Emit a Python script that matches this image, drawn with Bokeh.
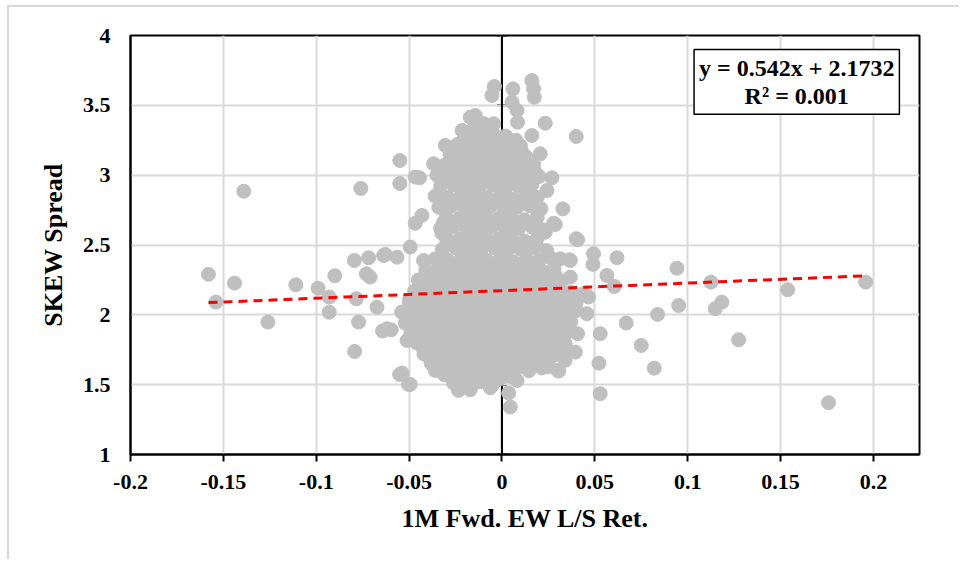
from bokeh.plotting import figure
from bokeh.models import Range1d, FixedTicker, Span, Label, ColumnDataSource
from bokeh.embed import file_html
from bokeh.resources import INLINE

# ---------------- data ----------------
x_ticks = [-0.2, -0.15, -0.1, -0.05, 0.0, 0.05, 0.1, 0.15, 0.2]
x_tick_labels = ["-0.2", "-0.15", "-0.1", "-0.05", "0", "0.05", "0.1", "0.15", "0.2"]
y_ticks = [1.0, 1.5, 2.0, 2.5, 3.0, 3.5, 4.0]
y_tick_labels = ["1", "1.5", "2", "2.5", "3", "3.5", "4"]

slope = 0.542
intercept = 2.1732
r_squared = 0.001

# sparse points around the cloud
outer_x = [-0.158, -0.144, -0.154, -0.126, -0.139, -0.111, -0.099, -0.093, -0.093, -0.090,
           -0.0795, -0.0718, -0.0637, -0.0565, -0.073, -0.071, -0.0784, -0.0772, -0.0793, -0.0643,
           -0.0596, -0.0551, -0.0503, -0.0673, -0.076, -0.055, -0.055,
           0.0328, 0.0287, 0.0407, 0.0493, 0.049, 0.0619, 0.0565, 0.0605, 0.0942, 0.1125,
           0.1538, 0.1958, 0.0951, 0.1184, 0.1148, 0.0838, 0.0669, 0.0529, 0.075, 0.1274,
           0.0522, 0.082, 0.0529, 0.1758, 0.0466, 0.0457, 0.0407, 0.0395, 0.034, 0.030,
           0.0368, 0.0314, 0.0287, 0.0368, 0.0439]
outer_y = [2.29, 2.227, 2.091, 1.948, 2.885, 2.215, 2.191, 2.127, 2.019, 2.28,
           2.389, 2.409, 2.425, 2.413, 2.294, 2.27, 2.115, 1.948, 1.738, 1.884,
           1.893, 1.573, 1.502, 2.055, 2.905, 3.105, 2.94,
           2.759, 2.647, 2.537, 2.437, 2.361, 2.409, 2.282, 2.203, 2.334, 2.234,
           2.18, 2.234, 2.067, 2.091, 2.044, 2.003, 1.941, 1.865, 1.781, 1.822,
           1.654, 1.618, 1.435, 1.371, 2.127, 2.008, 1.865, 1.733, 1.674, 1.602,
           2.389, 2.401, 2.282, 2.27, 2.151]

# edge points of the cloud (top, sides, bottom)
edge_x = [-0.0041, -0.0054, 0.0059, 0.0161, 0.017, 0.0174, 0.0054, 0.0081, 0.0084, 0.0233,
          0.040, -0.0144, -0.0171, -0.0045, -0.0215, 0.0161, -0.0305, -0.0368, -0.0444, 0.0269,
          0.0206, 0.0242, -0.0431, -0.0467, -0.0323, -0.0494, -0.0628, -0.0422, 0.0278, 0.0233,
          0.040, 0.0364, -0.0467, -0.0538, -0.0494, -0.0359, -0.0234, -0.0171, -0.0063, 0.0036,
          0.0045, 0.0081, 0.0305, 0.034, 0.034, -0.0511, -0.0619]
edge_y = [3.635, 3.571, 3.618, 3.678, 3.618, 3.558, 3.523, 3.463, 3.379, 3.372,
          3.277, 3.427, 3.415, 3.368, 3.32, 3.284, 3.213, 3.082, 2.981, 2.981,
          3.153, 2.89, 2.712, 2.656, 2.585, 2.485, 2.432, 2.389, 2.656, 2.592,
          2.545, 2.394, 2.986, 1.583, 1.502, 1.602, 1.459, 1.464, 1.478, 1.44,
          1.34, 1.53, 1.597, 1.722, 1.793, 1.817, 1.9]

# dense lower body of the cloud
core_x = [-0.026, -0.019, -0.012, -0.005,
          -0.031, -0.024, -0.017, -0.010, -0.003, 0.004,
          -0.038, -0.031, -0.024, -0.017, -0.010, -0.003, 0.004, 0.011, 0.018, 0.025,
          -0.042, -0.035, -0.028, -0.021, -0.014, -0.007, 0.000, 0.007, 0.014, 0.021, 0.028,
          -0.046, -0.039, -0.032, -0.025, -0.018, -0.011, -0.004, 0.003, 0.010, 0.017, 0.024, 0.031,
          -0.049, -0.042, -0.035, -0.028, -0.021, -0.014, -0.007, 0.000, 0.007, 0.014, 0.021, 0.028, 0.034,
          -0.052, -0.046, -0.039, -0.032, -0.025, -0.018, -0.011, -0.004, 0.003, 0.010, 0.017, 0.024, 0.031, 0.037,
          -0.054, -0.049, -0.042, -0.035, -0.028, -0.021, -0.014, -0.007, 0.000, 0.007, 0.014, 0.021, 0.028, 0.035, 0.040,
          -0.050, -0.043, -0.036, -0.029, -0.022, -0.015, -0.008, -0.001, 0.006, 0.013, 0.020, 0.027, 0.034, 0.040,
          -0.047, -0.040, -0.033, -0.026, -0.019, -0.012, -0.005, 0.002, 0.009, 0.016, 0.023, 0.030, 0.037,
          -0.045, -0.038, -0.031, -0.024, -0.017, -0.010, -0.003, 0.004, 0.011, 0.018, 0.025, 0.032,
          -0.041, -0.034, -0.027, -0.020, -0.013, -0.006, 0.001, 0.008, 0.015, 0.022, 0.028,
          -0.036, -0.029, -0.022, -0.015, -0.008, -0.001, 0.006, 0.013, 0.020, 0.026,
          -0.032, -0.025, -0.018, -0.011, -0.004, 0.003, 0.010, 0.017, 0.024]
core_y = [1.51, 1.49, 1.52, 1.50,
          1.57, 1.58, 1.56, 1.58, 1.57, 1.56,
          1.65, 1.64, 1.66, 1.64, 1.65, 1.63, 1.65, 1.64, 1.66, 1.63,
          1.72, 1.71, 1.73, 1.72, 1.71, 1.73, 1.72, 1.71, 1.72, 1.73, 1.71,
          1.80, 1.79, 1.80, 1.81, 1.79, 1.80, 1.78, 1.80, 1.79, 1.81, 1.80, 1.79,
          1.87, 1.88, 1.86, 1.87, 1.88, 1.86, 1.87, 1.88, 1.87, 1.86, 1.88, 1.87, 1.86,
          1.94, 1.95, 1.94, 1.96, 1.95, 1.93, 1.94, 1.95, 1.96, 1.94, 1.95, 1.93, 1.94, 1.95,
          2.02, 2.03, 2.01, 2.02, 2.03, 2.02, 2.01, 2.03, 2.02, 2.01, 2.02, 2.03, 2.02, 2.01, 2.03,
          2.10, 2.09, 2.10, 2.11, 2.09, 2.10, 2.08, 2.10, 2.09, 2.11, 2.10, 2.09, 2.10, 2.09,
          2.17, 2.18, 2.16, 2.17, 2.18, 2.17, 2.16, 2.18, 2.17, 2.16, 2.18, 2.17, 2.16,
          2.25, 2.24, 2.25, 2.26, 2.24, 2.25, 2.23, 2.25, 2.24, 2.26, 2.25, 2.24,
          2.32, 2.33, 2.31, 2.32, 2.33, 2.31, 2.32, 2.33, 2.32, 2.31, 2.33,
          2.40, 2.39, 2.40, 2.41, 2.39, 2.40, 2.38, 2.40, 2.39, 2.41,
          2.47, 2.48, 2.46, 2.47, 2.48, 2.46, 2.47, 2.48, 2.46]

# extra points filling the gaps of the lower body (offset rows)
fill_x = [-0.0225, -0.0155, -0.0085, -0.0015,
          -0.0345, -0.0275, -0.0205, -0.0135, -0.0065, 0.0005, 0.0075, 0.0145, 0.0215,
          -0.0385, -0.0315, -0.0245, -0.0175, -0.0105, -0.0035, 0.0035, 0.0105, 0.0175, 0.0245,
          -0.0425, -0.0355, -0.0285, -0.0215, -0.0145, -0.0075, -0.0005, 0.0065, 0.0135, 0.0205, 0.0275,
          -0.0455, -0.0385, -0.0315, -0.0245, -0.0175, -0.0105, -0.0035, 0.0035, 0.0105, 0.0175, 0.0245, 0.0315,
          -0.0485, -0.0415, -0.0345, -0.0275, -0.0205, -0.0135, -0.0065, 0.0005, 0.0075, 0.0145, 0.0215, 0.0285, 0.0345,
          -0.0495, -0.0425, -0.0355, -0.0285, -0.0215, -0.0145, -0.0075, -0.0005, 0.0065, 0.0135, 0.0205, 0.0275, 0.0345,
          -0.0465, -0.0395, -0.0325, -0.0255, -0.0185, -0.0115, -0.0045, 0.0025, 0.0095, 0.0165, 0.0235, 0.0305, 0.0365,
          -0.0435, -0.0365, -0.0295, -0.0225, -0.0155, -0.0085, -0.0015, 0.0055, 0.0125, 0.0195, 0.0265, 0.0335,
          -0.0395, -0.0325, -0.0255, -0.0185, -0.0115, -0.0045, 0.0025, 0.0095, 0.0165, 0.0235, 0.0295,
          -0.0345, -0.0275, -0.0205, -0.0135, -0.0065, 0.0005, 0.0075, 0.0145, 0.0215,
          -0.0315, -0.0245, -0.0175, -0.0105, -0.0035, 0.0035, 0.0105, 0.0175,
          -0.0295, -0.0225, -0.0155, -0.0085, -0.0015, 0.0055, 0.0125, 0.0185,
          -0.0315, -0.0245, -0.0175, -0.0105, -0.0035, 0.0035, 0.0105, 0.0175,
          -0.0325, -0.0255, -0.0185, -0.0115, -0.0045, 0.0025, 0.0095, 0.0165,
          -0.0295, -0.0225, -0.0155, -0.0085, -0.0015, 0.0055, 0.0125,
          -0.0315, -0.0245, -0.0175, -0.0105, -0.0035, 0.0035, 0.0105, 0.0175,
          -0.0275, -0.0205, -0.0135, -0.0065, 0.0005, 0.0075, 0.0145,
          -0.0245, -0.0175, -0.0105, -0.0035, 0.0035, 0.0105,
          -0.0205, -0.0135, -0.0065, 0.0005, 0.0075,
          -0.0155, -0.0085]
fill_y = [1.54, 1.53, 1.55, 1.54,
          1.61, 1.60, 1.62, 1.61, 1.60, 1.62, 1.61, 1.60, 1.62,
          1.68, 1.69, 1.67, 1.68, 1.69, 1.67, 1.68, 1.69, 1.67, 1.68,
          1.76, 1.75, 1.77, 1.76, 1.75, 1.77, 1.76, 1.75, 1.76, 1.77, 1.75,
          1.83, 1.84, 1.82, 1.83, 1.84, 1.82, 1.83, 1.84, 1.83, 1.82, 1.84, 1.83,
          1.91, 1.90, 1.92, 1.91, 1.90, 1.92, 1.91, 1.90, 1.91, 1.92, 1.90, 1.91, 1.92,
          1.98, 1.99, 1.97, 1.98, 1.99, 1.97, 1.98, 1.99, 1.98, 1.97, 1.99, 1.98, 1.97,
          2.06, 2.05, 2.07, 2.06, 2.05, 2.07, 2.06, 2.05, 2.06, 2.07, 2.05, 2.06, 2.07,
          2.13, 2.14, 2.12, 2.13, 2.14, 2.12, 2.13, 2.14, 2.13, 2.12, 2.14, 2.13,
          2.21, 2.20, 2.22, 2.21, 2.20, 2.22, 2.21, 2.20, 2.21, 2.22, 2.20,
          2.28, 2.29, 2.27, 2.28, 2.29, 2.27, 2.28, 2.29, 2.28,
          2.36, 2.35, 2.37, 2.36, 2.35, 2.37, 2.36, 2.35,
          2.51, 2.50, 2.52, 2.51, 2.50, 2.52, 2.51, 2.50,
          2.66, 2.65, 2.67, 2.66, 2.65, 2.67, 2.66, 2.65,
          2.81, 2.80, 2.82, 2.81, 2.80, 2.82, 2.81, 2.80,
          2.96, 2.95, 2.97, 2.96, 2.95, 2.97, 2.96,
          3.04, 3.03, 3.05, 3.04, 3.03, 3.05, 3.04, 3.03,
          3.11, 3.10, 3.12, 3.11, 3.10, 3.12, 3.11,
          3.18, 3.19, 3.17, 3.18, 3.19, 3.17,
          3.26, 3.25, 3.27, 3.26, 3.25,
          3.33, 3.34]

# upper plume of the cloud
plume_x = [-0.030, -0.023, -0.016, -0.009, -0.002, 0.005, 0.012, 0.019,
           -0.033, -0.026, -0.019, -0.012, -0.005, 0.002, 0.009, 0.016, 0.022,
           -0.030, -0.023, -0.016, -0.009, -0.002, 0.005, 0.012, 0.019,
           -0.034, -0.027, -0.020, -0.013, -0.006, 0.001, 0.008, 0.015, 0.021,
           -0.036, -0.029, -0.022, -0.015, -0.008, -0.001, 0.006, 0.013, 0.019,
           -0.033, -0.026, -0.019, -0.012, -0.005, 0.002, 0.009, 0.016,
           -0.035, -0.028, -0.021, -0.014, -0.007, 0.000, 0.007, 0.014, 0.020,
           -0.031, -0.024, -0.017, -0.010, -0.003, 0.004, 0.011, 0.017,
           -0.028, -0.021, -0.014, -0.007, 0.000, 0.007, 0.013,
           -0.024, -0.017, -0.010, -0.003, 0.004, 0.010,
           -0.019, -0.012, -0.005, 0.002,
           -0.010]
plume_y = [2.55, 2.54, 2.55, 2.56, 2.54, 2.55, 2.53, 2.55,
           2.62, 2.63, 2.61, 2.62, 2.63, 2.61, 2.62, 2.63, 2.61,
           2.70, 2.69, 2.70, 2.71, 2.69, 2.70, 2.68, 2.70,
           2.77, 2.78, 2.76, 2.77, 2.78, 2.76, 2.77, 2.78, 2.76,
           2.85, 2.84, 2.85, 2.86, 2.84, 2.85, 2.83, 2.85, 2.84,
           2.92, 2.93, 2.91, 2.92, 2.93, 2.91, 2.92, 2.93,
           3.00, 2.99, 3.00, 3.01, 2.99, 3.00, 2.98, 3.00, 2.99,
           3.07, 3.08, 3.06, 3.07, 3.08, 3.06, 3.07, 3.08,
           3.15, 3.14, 3.15, 3.16, 3.14, 3.15, 3.13,
           3.22, 3.23, 3.21, 3.22, 3.23, 3.21,
           3.30, 3.29, 3.30, 3.28,
           3.37]

all_x = outer_x + edge_x + core_x + fill_x + plume_x
all_y = outer_y + edge_y + core_y + fill_y + plume_y

FONT = "Liberation Serif"
GRID = "#d9d9d9"
POINT = "#bfbfbf"

p = figure(width=952, height=554,
           x_range=Range1d(-0.2, 0.2248), y_range=Range1d(1, 4),
           output_backend="svg", toolbar_location=None,
           min_border_left=121, min_border_right=42,
           min_border_top=28, min_border_bottom=107,
           margin=(5, 0, 0, 7),
           styles={"border-left": "2px solid #d9d9d9", "border-top": "2px solid #d9d9d9"})
p.background_fill_color = "white"
p.border_fill_color = "white"
p.outline_line_color = "black"
p.outline_line_width = 2
p.outline_line_alpha = 1.0

# grids
p.xgrid.ticker = FixedTicker(ticks=x_ticks)
p.ygrid.ticker = FixedTicker(ticks=y_ticks)
for g in (p.xgrid, p.ygrid):
    g.grid_line_color = GRID
    g.grid_line_width = 2

# axes
p.xaxis.ticker = FixedTicker(ticks=x_ticks)
p.xaxis.major_label_overrides = dict(zip(x_ticks, x_tick_labels))
p.yaxis.ticker = FixedTicker(ticks=y_ticks)
p.yaxis.major_label_overrides = dict(zip(y_ticks, y_tick_labels))
for ax in (p.xaxis, p.yaxis):
    ax.axis_line_color = "black"
    ax.axis_line_width = 2
    ax.minor_tick_line_color = None
    ax.major_label_text_font = FONT
    ax.major_label_text_font_style = "bold"
    ax.major_label_text_font_size = "22px"
    ax.major_label_text_color = "black"
    ax.axis_label_text_font = FONT
    ax.axis_label_text_font_style = "bold"
    ax.axis_label_text_font_size = "26px"
    ax.axis_label_text_color = "black"

p.xaxis.axis_label = "1M Fwd. EW L/S Ret."
p.xaxis.major_tick_in = 0
p.xaxis.major_tick_out = 7
p.xaxis.major_tick_line_width = 2
p.xaxis.major_tick_line_color = "black"
p.xaxis.major_label_standoff = 13
p.xaxis.axis_label_standoff = 12

p.yaxis.axis_label = "SKEW Spread"
p.yaxis.major_tick_line_color = None
p.yaxis.major_tick_in = 0
p.yaxis.major_tick_out = 0
p.yaxis.major_label_standoff = 20
p.yaxis.axis_label_standoff = 12

# vertical value axis at x = 0 (beneath the points)
p.add_layout(Span(location=0, dimension="height", line_color="black",
                  line_width=2, level="underlay"))
tick_src = ColumnDataSource(dict(y=y_ticks))
p.segment(x0=-0.0027, x1=0.0027, y0="y", y1="y", source=tick_src,
          line_color="black", line_width=2, level="underlay")

# points
src = ColumnDataSource(dict(x=all_x, y=all_y))
p.scatter("x", "y", source=src, size=14, fill_color=POINT,
          line_color=POINT, line_width=1)

# linear trend line
x_lo = min(all_x)
x_hi = max(all_x)
trend = ColumnDataSource(dict(x=[x_lo, x_hi],
                              y=[slope * x_lo + intercept, slope * x_hi + intercept]))
p.line("x", "y", source=trend, line_color="#ff0000", line_width=3,
       line_dash="9 6")

# equation box
eq = Label(x=0.1587, y=3.668,
           text="y = %.3fx + %.4f\nR\u00b2 = %.3f" % (slope, intercept, r_squared),
           text_font=FONT, text_font_style="bold", text_font_size="24px",
           text_align="center", text_baseline="middle", text_color="black",
           text_line_height=1.1,
           border_line_color="black", border_line_width=1.5,
           background_fill_color="white", padding=5)
p.add_layout(eq)

open("out.html", "w").write(file_html(p, INLINE))
